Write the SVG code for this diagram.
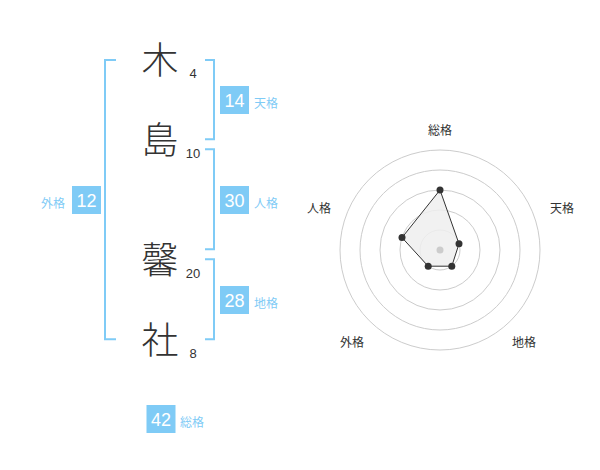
<svg xmlns="http://www.w3.org/2000/svg" width="600" height="470" viewBox="0 0 600 470">
<defs>
<style>
.kanji{font-family:"Noto Sans CJK JP","Noto Sans CJK SC",sans-serif;font-size:37px;font-weight:300;fill:#333;text-anchor:middle}
.num{font-family:"Liberation Sans",Arial,sans-serif;font-size:13px;fill:#333;text-anchor:middle}
.box{fill:#7fcbf6}
.boxt{font-family:"Liberation Sans",Arial,sans-serif;font-size:18px;fill:#fff;text-anchor:middle}
.lbl{font-family:"Noto Sans CJK JP","Noto Sans CJK SC",sans-serif;font-size:12px;fill:#7fcbf6}
.br{fill:none;stroke:#7fcbf6;stroke-width:2}
.ring{fill:none;stroke:#cccccc;stroke-width:1}
.rl{font-family:"Noto Sans CJK JP","Noto Sans CJK SC",sans-serif;font-size:12px;fill:#333;text-anchor:middle}
.pt{fill:#333}
</style>
</defs>
<rect width="600" height="470" fill="#fff"/>
<g id="chars">
<g id="c1"><text class="kanji" x="160" y="74">木</text><text class="num" x="193" y="78">4</text></g>
<g id="c2"><text class="kanji" x="160" y="154">島</text><text class="num" x="193" y="158">10</text></g>
<g id="c3"><text class="kanji" x="160" y="274">馨</text><text class="num" x="193" y="278">20</text></g>
<g id="c4"><text class="kanji" x="160" y="354">社</text><text class="num" x="193" y="358">8</text></g>
</g>
<g id="connectors">
<path class="br" d="M116,60 H105 V339.3 H116"/>
<path class="br" d="M205,60 H214 V139.3 H205"/>
<path class="br" d="M205,149.3 H214 V249.3 H205"/>
<path class="br" d="M205,259.3 H214 V339.3 H205"/>
</g>
<g id="tenkaku"><rect class="box" x="220" y="86" width="29" height="28"/><text class="boxt" x="234.5" y="107">14</text><text class="lbl" x="254" y="108">天格</text></g>
<g id="jinkaku"><rect class="box" x="220" y="186" width="29" height="28"/><text class="boxt" x="234.5" y="207">30</text><text class="lbl" x="254" y="208">人格</text></g>
<g id="chikaku"><rect class="box" x="220" y="286" width="29" height="28"/><text class="boxt" x="234.5" y="307">28</text><text class="lbl" x="254" y="308">地格</text></g>
<g id="gaikaku"><rect class="box" x="72" y="186" width="29" height="28"/><text class="boxt" x="86.5" y="207">12</text><text class="lbl" x="41" y="208">外格</text></g>
<g id="soukaku"><rect class="box" x="146.5" y="405" width="29" height="28"/><text class="boxt" x="161" y="426">42</text><text class="lbl" x="180" y="427">総格</text></g>
<g id="radar">
<circle class="ring" cx="440" cy="250" r="20"/>
<circle class="ring" cx="440" cy="250" r="40"/>
<circle class="ring" cx="440" cy="250" r="60"/>
<circle class="ring" cx="440" cy="250" r="80"/>
<circle class="ring" cx="440" cy="250" r="100"/>
<polygon points="440,190 459,243.8 451.8,266.2 428.2,266.2 402,237.6" fill="#efefef" fill-opacity="0.85" stroke="#333" stroke-width="1"/>
<circle cx="440" cy="250" r="3.5" fill="#ccc"/>
<circle class="pt" cx="440" cy="190" r="3.5"/>
<circle class="pt" cx="459" cy="243.8" r="3.5"/>
<circle class="pt" cx="451.8" cy="266.2" r="3.5"/>
<circle class="pt" cx="428.2" cy="266.2" r="3.5"/>
<circle class="pt" cx="402" cy="237.6" r="3.5"/>
<text class="rl" x="440" y="135">総格</text>
<text class="rl" x="562" y="213">天格</text>
<text class="rl" x="524" y="347">地格</text>
<text class="rl" x="352" y="347">外格</text>
<text class="rl" x="319" y="213">人格</text>
</g>
</svg>
